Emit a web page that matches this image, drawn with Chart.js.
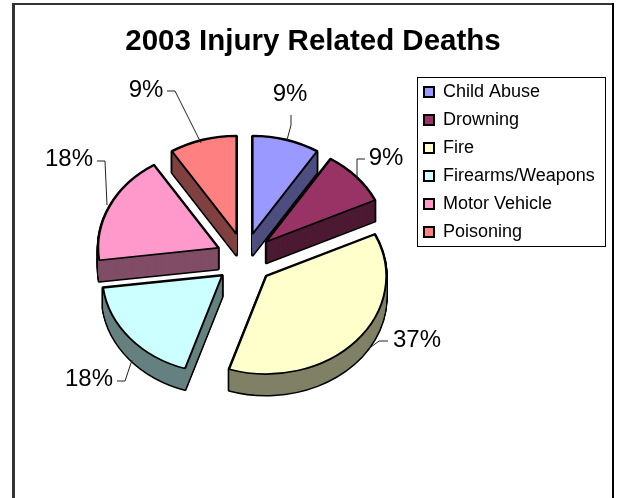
<!DOCTYPE html>
<html>
<head>
<meta charset="utf-8">
<title>2003 Injury Related Deaths</title>
<script src="https://cdn.jsdelivr.net/npm/chart.js@4"></script>
<style>
  html, body { margin: 0; padding: 0; background: #fff; }
  canvas { display: block; }
</style>
</head>
<body>
<canvas id="graph1" width="618" height="498"></canvas>
<script>
const categories = ['Child Abuse', 'Drowning', 'Fire', 'Firearms/Weapons', 'Motor Vehicle', 'Poisoning'];
const percents = [9, 9, 37, 18, 18, 9];
const topColors = ['#9999FF', '#993366', '#FFFFCC', '#CCFFFF', '#FF99CC', '#FF8080'];
const sideColors = ['#4D4D80', '#4D1A33', '#808066', '#668080', '#804D66', '#804040'];

// where the pie, the legend and the outside labels sit on the page
const pieCenter = { x: 244.5, y: 259 };
const pieRadius = 120;
const tilt = 0.815;
const depth = 21;
const explodeX = 29;
const explodeY = 26;
const legendBox = { left: 417, top: 77, right: 605, bottom: 246 };
const labelSpots = [[290, 94], [386, 158], [417, 340], [89, 379], [69, 159], [146, 90]];
const leaders = [
  [[291, 115], [291, 125], [287, 140]],
  [[365, 159], [357, 159], [357, 180]],
  [[388, 341], [379, 341], [367, 350]],
  [[117, 381], [125, 381], [132, 360]],
  [[97, 161], [105, 161], [107, 205]],
  [[167, 91], [175, 91], [201, 143]]
];
const fontName = '"Liberation Sans", Arial, sans-serif';

const piePlugin = {
  id: 'pie3d',
  afterLayout(chart) {
    // the pie does not follow the space left by title and legend
    chart.chartArea = {
      left: pieCenter.x - pieRadius, right: pieCenter.x + pieRadius,
      top: pieCenter.y - pieRadius, bottom: pieCenter.y + pieRadius,
      width: pieRadius * 2, height: pieRadius * 2
    };
    const lg = chart.legend;
    lg.left = legendBox.left - 3;
    lg.top = legendBox.top - 4;
    lg.right = legendBox.right;
    lg.bottom = chart.height;
  },
  beforeDraw(chart) {
    const ctx = chart.ctx;
    ctx.save();
    ctx.fillStyle = '#fff';
    ctx.fillRect(0, 0, chart.width, chart.height);
    // outer frame, open at the bottom of the picture
    ctx.fillStyle = '#333';
    ctx.fillRect(12, 3, 3, chart.height);
    ctx.fillRect(12, 3, 601, 2);
    ctx.fillStyle = '#000';
    ctx.fillRect(612, 3, 2, chart.height);
    // legend frame
    ctx.strokeStyle = '#000';
    ctx.lineWidth = 1;
    ctx.strokeRect(legendBox.left + 0.5, legendBox.top + 0.5,
      legendBox.right - legendBox.left, legendBox.bottom - legendBox.top);
    ctx.restore();
  },
  beforeDatasetsDraw(chart) {
    const ctx = chart.ctx;
    const arcs = chart.getDatasetMeta(0).data;
    arcs.forEach((arc, i) => {
      const p = arc.getProps(['x', 'y', 'startAngle', 'endAngle', 'outerRadius']);
      const mid = (p.startAngle + p.endAngle) / 2;
      const place = (drop) => {
        ctx.translate(p.x + Math.cos(mid) * explodeX, p.y + Math.sin(mid) * explodeY + drop);
        ctx.scale(1, tilt);
        ctx.translate(-p.x, -p.y);
      };
      const wedge = (drop) => {
        ctx.save();
        place(drop);
        ctx.beginPath();
        ctx.moveTo(p.x, p.y);
        ctx.arc(p.x, p.y, p.outerRadius, p.startAngle, p.endAngle);
        ctx.closePath();
        ctx.restore();
      };
      // side of the slice: outline first, then dark fill on top of it
      ctx.save();
      ctx.lineJoin = 'round';
      ctx.strokeStyle = '#000';
      ctx.lineWidth = 3;
      for (let d = depth; d >= 0; d--) { wedge(d); ctx.stroke(); }
      ctx.fillStyle = sideColors[i];
      for (let d = depth; d >= 0; d--) { wedge(d); ctx.fill(); }
      ctx.restore();
      // top face is the library's own arc
      ctx.save();
      place(0);
      arc.draw(ctx);
      ctx.restore();
    });
    return false;
  },
  afterDraw(chart) {
    const ctx = chart.ctx;
    const total = percents.reduce((a, b) => a + b, 0);
    ctx.save();
    ctx.strokeStyle = '#222';
    ctx.lineWidth = 1;
    leaders.forEach(pts => {
      ctx.beginPath();
      pts.forEach((pt, k) => k ? ctx.lineTo(pt[0], pt[1]) : ctx.moveTo(pt[0], pt[1]));
      ctx.stroke();
    });
    ctx.fillStyle = '#000';
    ctx.font = '24px ' + fontName;
    ctx.textAlign = 'center';
    ctx.textBaseline = 'middle';
    percents.forEach((v, i) => {
      ctx.fillText(Math.round(v / total * 100) + '%', labelSpots[i][0], labelSpots[i][1]);
    });
    ctx.restore();
  }
};

new Chart(document.querySelector('#graph1'), {
  type: 'pie',
  data: {
    labels: categories,
    datasets: [{
      data: percents,
      backgroundColor: topColors,
      borderColor: '#000',
      borderWidth: 2,
      radius: pieRadius
    }]
  },
  options: {
    responsive: false,
    animation: false,
    layout: { padding: { left: 13, right: 5 } },
    plugins: {
      tooltip: { enabled: false },
      title: {
        display: true,
        text: '2003 Injury Related Deaths',
        color: '#000',
        font: { family: fontName, size: 29.5, weight: 'bold' },
        padding: { top: 24, bottom: 10 }
      },
      legend: {
        position: 'right',
        align: 'start',
        labels: {
          color: '#000',
          font: { family: fontName, size: 18 },
          boxWidth: 10,
          boxHeight: 10,
          padding: 10
        }
      }
    }
  },
  plugins: [piePlugin]
});
</script>
</body>
</html>
